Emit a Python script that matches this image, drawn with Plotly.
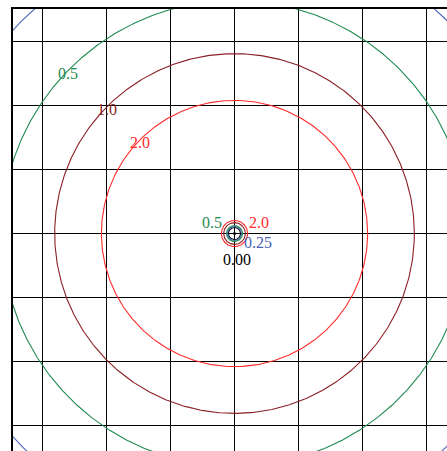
import numpy as np
import plotly.graph_objects as go

# contour levels and the radii (in axis units) at which each closed contour lies
outer_levels = [0.25, 0.5, 1.0, 2.0]
outer_radii = [4.70, 3.64, 2.81, 2.08]
inner_levels = [0.00, 0.25, 0.5, 1.0, 2.0]
inner_radii = [0.095, 0.11, 0.125, 0.17, 0.205]
label_text = {0.0: "0.00", 0.25: "0.25", 0.5: "0.5", 1.0: "1.0", 2.0: "2.0"}

level_colors = {0.0: "#000000", 0.25: "#4a62b8", 0.5: "#1f8a50", 1.0: "#8a1f24", 2.0: "#ff2b2b"}

theta = np.linspace(0, 2 * np.pi, 721)

fig = go.Figure()
for lev, r in list(zip(outer_levels, outer_radii)) + list(zip(inner_levels, inner_radii)):
    fig.add_trace(go.Scatter(x=r * np.cos(theta), y=r * np.sin(theta), mode="lines",
                             line=dict(color=level_colors[lev], width=1.1),
                             hoverinfo="skip", showlegend=False))
fig.add_trace(go.Scatter(x=[0], y=[0], mode="markers", marker=dict(color="black", size=3),
                         hoverinfo="skip", showlegend=False))

font = "Liberation Serif, Times New Roman, serif"
ang = np.deg2rad(136)
for lev, r in zip(outer_levels, outer_radii):
    if lev == 0.25:
        continue
    fig.add_annotation(x=(r - 0.03) * np.cos(ang), y=(r - 0.03) * np.sin(ang), text=label_text[lev],
                       showarrow=False, font=dict(family=font, size=16, color=level_colors[lev]))
# labels of the small contours around the centre
for lev, dx, dy in [(0.5, -23, 11), (2.0, 24, 11), (0.25, 23, -9), (0.0, 2.5, -26)]:
    fig.add_annotation(x=0, y=0, xshift=dx, yshift=dy, text=label_text[lev], showarrow=False,
                       font=dict(family=font, size=16, color=level_colors[lev]))

axis = dict(dtick=1, tick0=0, showgrid=True, gridcolor="black", gridwidth=1,
            showticklabels=False, ticks="", zeroline=False,
            showline=True, linecolor="black", mirror=False)
fig.update_xaxes(range=[-3.461, 3.320], side="top", linewidth=2, **axis)
fig.update_yaxes(range=[-3.398, 3.508], side="left", linewidth=1.5, **axis)
fig.update_layout(width=447, height=451, margin=dict(l=13, r=0, t=9, b=0),
                  plot_bgcolor="white", paper_bgcolor="white")
fig.write_html("out.html", config={"displayModeBar": False},
               post_script="document.body.style.margin='0';document.body.style.overflow='hidden';")
